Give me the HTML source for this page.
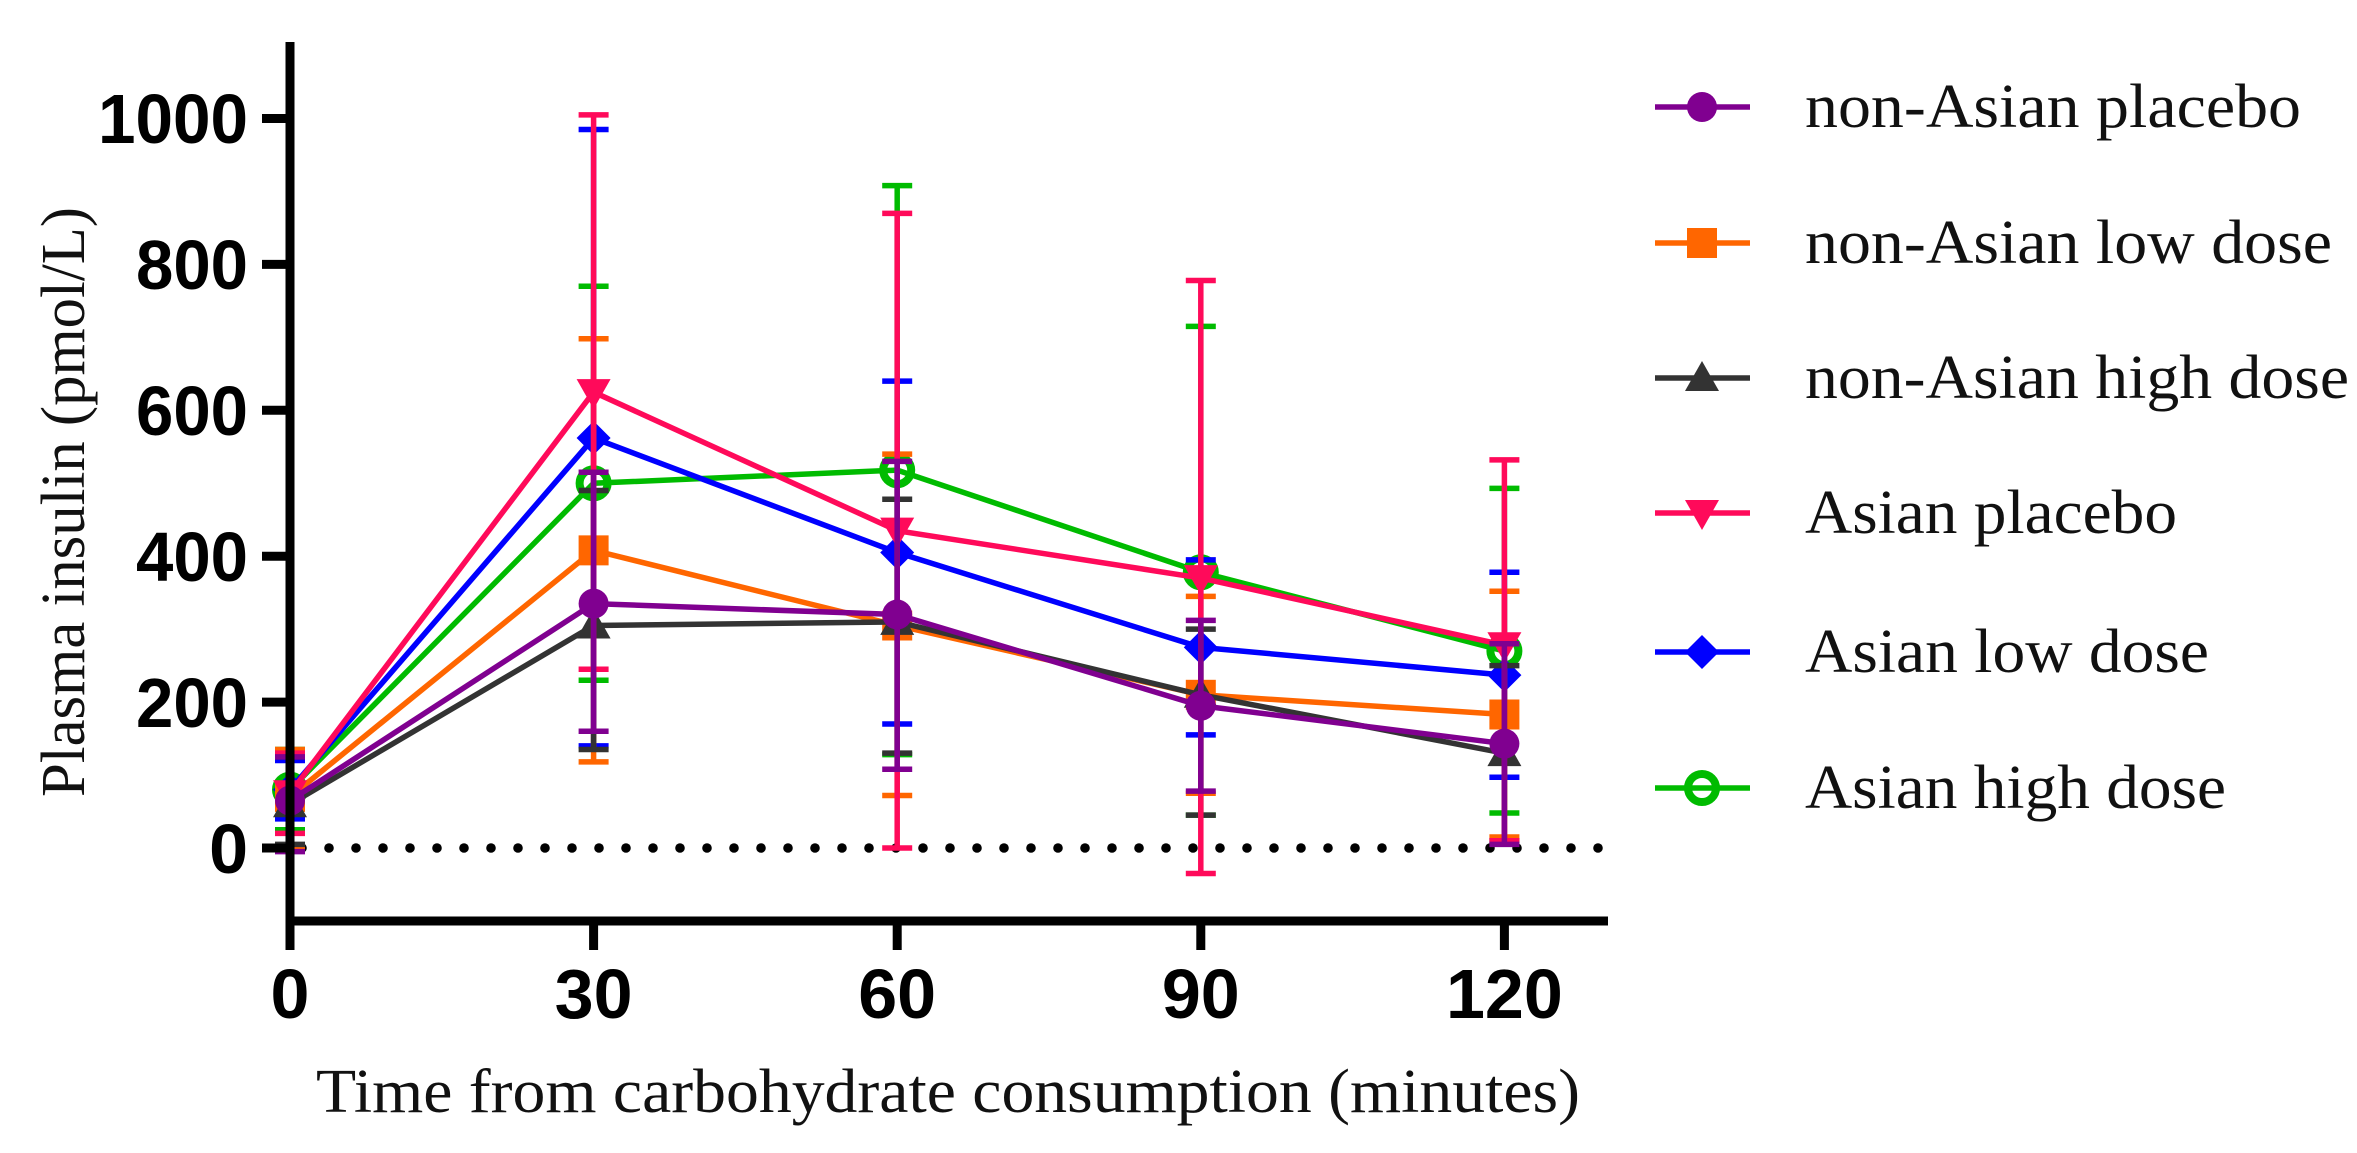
<!DOCTYPE html>
<html><head><meta charset="utf-8"><style>
html,body{margin:0;padding:0;background:#fff;}
svg{display:block;}
.tk{font-family:"Liberation Sans",Arial,sans-serif;font-weight:bold;font-size:70px;fill:#000;}
.sf{font-family:"Liberation Serif",serif;font-size:62px;fill:#111;}
</style></head><body>
<svg id="s" width="2357" height="1153" viewBox="0 0 2357 1153" xmlns="http://www.w3.org/2000/svg">
<g id="plot"></g>
<line x1="290" y1="42" x2="290" y2="926" stroke="#000" stroke-width="9"/>
<line x1="286" y1="921" x2="1608" y2="921" stroke="#000" stroke-width="9"/>
<g stroke="#000" stroke-width="9">
<line x1="262" y1="118.5" x2="290" y2="118.5"/>
<line x1="262" y1="264.4" x2="290" y2="264.4"/>
<line x1="262" y1="410.3" x2="290" y2="410.3"/>
<line x1="262" y1="556.2" x2="290" y2="556.2"/>
<line x1="262" y1="702.1" x2="290" y2="702.1"/>
<line x1="262" y1="848" x2="290" y2="848"/>
<line x1="290" y1="921" x2="290" y2="950"/>
<line x1="593.6" y1="921" x2="593.6" y2="950"/>
<line x1="897.2" y1="921" x2="897.2" y2="950"/>
<line x1="1200.8" y1="921" x2="1200.8" y2="950"/>
<line x1="1504.4" y1="921" x2="1504.4" y2="950"/>
</g>
<g class="tk" text-anchor="end">
<text x="248" y="143" textLength="150" lengthAdjust="spacingAndGlyphs">1000</text>
<text x="248" y="289" textLength="112" lengthAdjust="spacingAndGlyphs">800</text>
<text x="248" y="435" textLength="112" lengthAdjust="spacingAndGlyphs">600</text>
<text x="248" y="581" textLength="112" lengthAdjust="spacingAndGlyphs">400</text>
<text x="248" y="727" textLength="112" lengthAdjust="spacingAndGlyphs">200</text>
<text x="248" y="873">0</text>
</g>
<g class="tk" text-anchor="middle">
<text x="290" y="1018">0</text>
<text x="593.6" y="1018">30</text>
<text x="897.2" y="1018">60</text>
<text x="1200.8" y="1018">90</text>
<text x="1504.4" y="1018">120</text>
</g>
<text class="sf" x="316" y="1112" textLength="1264" lengthAdjust="spacingAndGlyphs">Time from carbohydrate consumption (minutes)</text>
<text class="sf" transform="translate(84,797) rotate(-90)" x="0" y="0" textLength="590" lengthAdjust="spacingAndGlyphs">Plasma insulin (pmol/L)</text>
<g class="sf" font-size="64">
<text x="1805" y="127" textLength="496" lengthAdjust="spacingAndGlyphs">non-Asian placebo</text>
<text x="1805" y="263" textLength="527" lengthAdjust="spacingAndGlyphs">non-Asian low dose</text>
<text x="1805" y="398" textLength="544" lengthAdjust="spacingAndGlyphs">non-Asian high dose</text>
<text x="1805" y="533" textLength="372" lengthAdjust="spacingAndGlyphs">Asian placebo</text>
<text x="1805" y="672" textLength="404" lengthAdjust="spacingAndGlyphs">Asian low dose</text>
<text x="1805" y="808" textLength="421" lengthAdjust="spacingAndGlyphs">Asian high dose</text>
</g>
<g id="leg"></g>
</svg>
<script>
var NS="http://www.w3.org/2000/svg";
function X(t){return 290+t*10.12;}
function Y(v){return 848-v*0.7295;}
function el(p,n,a){var e=document.createElementNS(NS,n);for(var k in a)e.setAttribute(k,a[k]);p.appendChild(e);return e;}
var plot=document.getElementById('plot'),leg=document.getElementById('leg');
for(var x=302;x<1608;x+=27) el(plot,'circle',{cx:x,cy:848,r:4.8,fill:'#000'});
var T=[0,30,60,90,120];
var S=[
{c:'#00bb00',m:'ocirc',v:[80,500,518,378,270],hi:[135,770,908,715,493],lo:[25,230,128,45,48]},
{c:'#0000ff',m:'diam',v:[80,562,405,275,237],hi:[120,985,640,395,378],lo:[40,140,170,155,97]},
{c:'#ff6600',m:'sq',v:[70,408,305,210,183],hi:[135,698,540,345,352],lo:[0,118,72,75,15]},
{c:'#333333',m:'tri',v:[60,305,310,210,130],hi:[125,490,478,300,250],lo:[5,135,130,45,10]},
{c:'#ff0a5a',m:'dtri',v:[75,625,435,370,278],hi:[130,1005,870,778,532],lo:[20,245,0,-35,10]},
{c:'#800090',m:'circ',v:[65,335,320,195,143],hi:[125,515,530,312,280],lo:[-5,160,108,78,5]}
];
function marker(g,m,x,y,c,sc){sc=sc||1;
 if(m=='circ')el(g,'circle',{cx:x,cy:y,r:15*sc,fill:c});
 else if(m=='ocirc')el(g,'circle',{cx:x,cy:y,r:14*sc,fill:'none',stroke:c,'stroke-width':8});
 else if(m=='sq')el(g,'rect',{x:x-15*sc,y:y-15*sc,width:30*sc,height:30*sc,fill:c});
 else if(m=='tri')el(g,'polygon',{points:(x-17*sc)+','+(y+13*sc)+' '+(x+17*sc)+','+(y+13*sc)+' '+x+','+(y-17*sc),fill:c});
 else if(m=='dtri')el(g,'polygon',{points:(x-17*sc)+','+(y-13*sc)+' '+(x+17*sc)+','+(y-13*sc)+' '+x+','+(y+17*sc),fill:c});
 else if(m=='diam')el(g,'polygon',{points:x+','+(y-17*sc)+' '+(x+17*sc)+','+y+' '+x+','+(y+17*sc)+' '+(x-17*sc)+','+y,fill:c});
}
S.forEach(function(s){
 var g=el(plot,'g',{});
 for(var i=0;i<5;i++){var x=X(T[i]);
  el(g,'line',{x1:x,y1:Y(s.hi[i]),x2:x,y2:Y(s.lo[i]),stroke:s.c,'stroke-width':5.5});
  el(g,'line',{x1:x-15,y1:Y(s.hi[i]),x2:x+15,y2:Y(s.hi[i]),stroke:s.c,'stroke-width':5.5});
  el(g,'line',{x1:x-15,y1:Y(s.lo[i]),x2:x+15,y2:Y(s.lo[i]),stroke:s.c,'stroke-width':5.5});
 }
 var pts=T.map(function(t,i){return X(t)+','+Y(s.v[i]);}).join(' ');
 el(g,'polyline',{points:pts,fill:'none',stroke:s.c,'stroke-width':5.5});
 for(var i=0;i<5;i++)marker(g,s.m,X(T[i]),Y(s.v[i]),s.c);
});
var L=[['#800090','circ'],['#ff6600','sq'],['#333333','tri'],['#ff0a5a','dtri'],['#0000ff','diam'],['#00bb00','ocirc']];
var LY=[107,243,378,513,652,788];
L.forEach(function(l,i){
 el(leg,'line',{x1:1655,y1:LY[i],x2:1750,y2:LY[i],stroke:l[0],'stroke-width':5.5});
 marker(leg,l[1],1702,LY[i],l[0],1.0);
});
</script>
</body></html>
